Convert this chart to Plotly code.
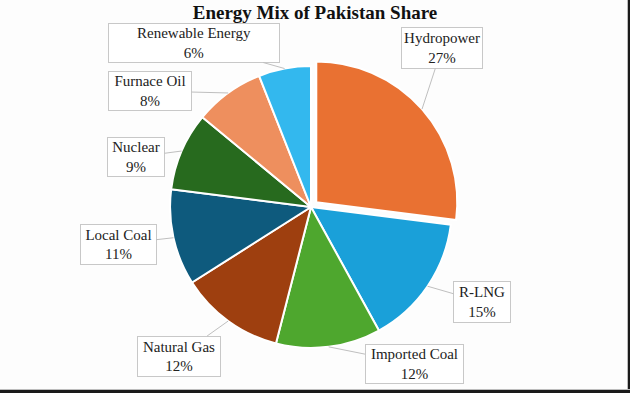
import math
import plotly.graph_objects as go

# ---- data ----
sources = ["Hydropower", "R-LNG", "Imported Coal", "Natural Gas",
           "Local Coal", "Nuclear", "Furnace Oil", "Renewable Energy"]
shares = [27, 15, 12, 12, 11, 9, 8, 6]
colors = ["#E97132", "#1AA0D9", "#4EA72E", "#9E3F0F",
          "#0E5A7D", "#276A1E", "#EE8F5E", "#33B8EE"]
pulls = [0.05, 0, 0, 0, 0, 0, 0, 0]

# ---- layout constants (pixels) ----
W, H = 630, 393
CX, CY, BOX = 311, 207, 296
# label box centers and sizes (w, h)
box_center = [(442, 48), (482, 302), (414, 364), (179, 356),
              (118, 244), (136, 157), (150, 91), (194, 43)]
box_size = [(82, 42), (58, 42), (99, 40), (84, 41),
            (77, 41), (58, 40), (84, 40), (172, 40)]

fig = go.Figure(go.Pie(
    labels=sources, values=shares, sort=False, direction="clockwise",
    rotation=0, pull=pulls, textinfo="none", hoverinfo="label+percent",
    marker=dict(colors=colors, line=dict(color="white", width=2)),
    domain=dict(x=[(CX - BOX / 2) / W, (CX + BOX / 2) / W],
                y=[1 - (CY + BOX / 2) / H, 1 - (CY - BOX / 2) / H]),
    showlegend=False,
))

r = BOX / 2 / (1 + max(pulls))
total = sum(shares)
cum = 0
annotations = []
for i, (name, v) in enumerate(zip(sources, shares)):
    mid = (cum + v / 2) / total * 2 * math.pi
    cum += v
    rr = r * (1 + pulls[i])
    tx = CX + rr * math.sin(mid)
    ty = CY - rr * math.cos(mid)
    bx, by = box_center[i]
    bw, bh = box_size[i]
    annotations.append(dict(
        x=tx / W, y=1 - ty / H, xref="paper", yref="paper",
        ax=bx - tx, ay=by - ty, axref="pixel", ayref="pixel",
        text=f"{name}<br>{round(v / total * 100)}%",
        showarrow=True, arrowhead=0, arrowwidth=1, arrowcolor="#BFBFBF",
        bordercolor="#C8C8C8", borderwidth=1, borderpad=0,
        bgcolor="white", width=bw - 2, height=bh - 2, align="center",
        font=dict(family="Liberation Serif", size=15, color="#222222"),
    ))

fig.update_layout(
    width=W, height=H,
    margin=dict(l=0, r=0, t=0, b=0),
    paper_bgcolor="#FDFDFD", plot_bgcolor="#FDFDFD",
    title=dict(text="<b>Energy Mix of Pakistan Share</b>", x=0.5, xanchor="center",
               yref="container", y=1 - 12 / H, yanchor="middle",
               font=dict(family="Liberation Serif", size=19, color="#111111")),
    annotations=annotations,
    shapes=[
        dict(type="rect", xref="paper", yref="paper", x0=627 / W, x1=628 / W, y0=0, y1=1,
             fillcolor="#BDBDBD", line_width=0),
        dict(type="rect", xref="paper", yref="paper", x0=628 / W, x1=1, y0=0, y1=1,
             fillcolor="#1A1A1A", line_width=0),
        dict(type="rect", xref="paper", yref="paper", x0=0, x1=1, y0=3 / H, y1=4 / H,
             fillcolor="#BDBDBD", line_width=0),
        dict(type="rect", xref="paper", yref="paper", x0=0, x1=1, y0=0, y1=3 / H,
             fillcolor="#1A1A1A", line_width=0),
    ],
)

fig.write_html("out.html", config={"displayModeBar": False},
               post_script="document.body.style.margin='0px';document.body.style.overflow='hidden';")
